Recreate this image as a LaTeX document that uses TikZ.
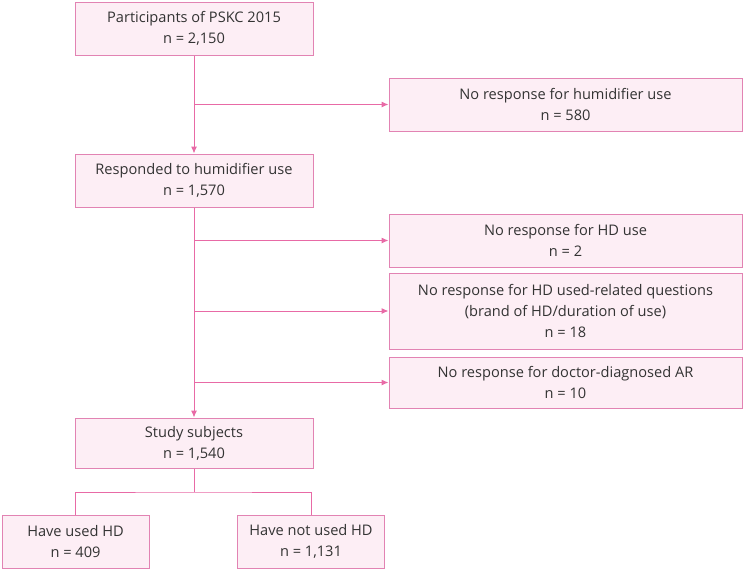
\documentclass[tikz,border=0pt]{standalone}
\usepackage{fontspec}
\setmainfont{Open Sans}
\usetikzlibrary{arrows.meta,positioning}
\definecolor{Edge}{HTML}{E283B3}
\definecolor{Pale}{HTML}{FDEEF5}
\definecolor{Wire}{HTML}{E86AA6}
\definecolor{Ink}{HTML}{333333}
\tikzset{
  box/.style={draw=Edge,fill=Pale,line width=1pt,minimum height=53pt,align=center,inner sep=2pt,text=Ink,font=\fontsize{14.6}{21}\selectfont},
  mainbox/.style={box,minimum width=238pt},
  sidebox/.style={box,minimum width=353pt},
  leafbox/.style={box,minimum width=147pt},
  arrow/.style={-{Latex[length=7pt,width=6pt]},line width=1pt,draw=Wire},
  wire/.style={line width=1pt,draw=Wire}
}
\begin{document}
\begin{tikzpicture}[x=1pt,y=-1pt]
  \useasboundingbox (0,0) rectangle (744,570);

  \node[mainbox] (parts) at (194,28.5) {Participants of PSKC 2015\\n = 2,150};
  \node[sidebox] (nohum) at (565.5,104.5) {No response for humidifier use\\n = 580};
  \node[mainbox] (resp) at (194,180.5) {Responded to humidifier use\\n = 1,570};
  \node[sidebox] (nohd) at (565.5,240.5) {No response for HD use\\n = 2};
  \node[sidebox,minimum height=76pt] (noq) at (565.5,311) {No response for HD used-related questions\\(brand of HD/duration of use)\\n = 18};
  \node[sidebox,minimum height=51pt] (noar) at (565.5,382.5) {No response for doctor-diagnosed AR\\n = 10};
  \node[mainbox,minimum height=50pt] (study) at (194,443) {Study subjects\\n = 1,540};
  \node[leafbox] (used) at (75.5,541.5) {Have used HD\\n = 409};
  \node[leafbox] (notused) at (311,541.5) {Have not used HD\\n = 1,131};

  \draw[arrow] (parts) -- (resp);
  \draw[arrow] (resp) -- (study);
  \draw[arrow] (parts.south |- nohum.west) -- (nohum.west);
  \foreach \n in {nohd,noq,noar}{
    \draw[arrow] (resp.south |- \n.west) -- (\n.west);
  }

  \coordinate (split) at (194,492);
  \draw[wire] (study.south) -- (split);
  \draw[wire] (used.north) |- (split) -| (notused.north);
\end{tikzpicture}
\end{document}
